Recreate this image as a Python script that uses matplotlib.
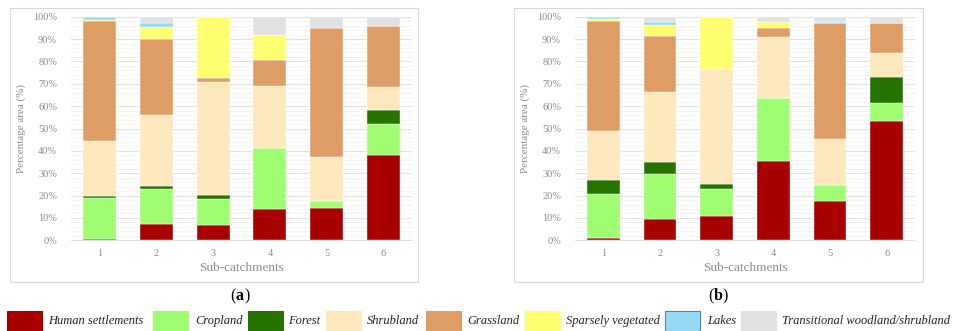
import matplotlib
matplotlib.use("Agg")
import matplotlib.pyplot as plt
from matplotlib.patches import Rectangle
from matplotlib.ticker import MultipleLocator, PercentFormatter
import numpy as np

categories = ["1", "2", "3", "4", "5", "6"]
classes = ["Human settlements", "Cropland", "Forest", "Shrubland", "Grassland",
           "Sparsely vegetated", "Lakes", "Transitional woodland/shrubland"]
colors = ["#A80000", "#A0FC70", "#267300", "#FEE8BE", "#DF9D66", "#FFFF70", "#97DBF2", "#E1E1E1"]

# Panel (a) values (%)
a_human = [0.8, 7.3, 6.9, 14.0, 14.5, 38.3]
a_crop = [18.3, 15.8, 11.6, 27.4, 2.9, 13.6]
a_forest = [0.8, 1.0, 1.6, 0.0, 0.0, 6.2]
a_shrub = [24.5, 31.9, 50.5, 27.6, 19.9, 10.6]
a_grass = [53.5, 33.9, 2.1, 11.5, 57.6, 27.1]
a_sparse = [0.6, 5.6, 27.3, 11.2, 0.0, 0.0]
a_lakes = [1.2, 1.5, 0.0, 0.0, 0.5, 0.0]
a_trans = [0.3, 3.0, 0.0, 8.3, 4.6, 4.2]

# Panel (b) values (%)
b_human = [1.0, 9.7, 10.9, 35.3, 17.4, 53.5]
b_crop = [19.6, 20.1, 12.2, 28.3, 7.3, 7.8]
b_forest = [6.2, 5.1, 2.1, 0.0, 0.0, 11.9]
b_shrub = [22.1, 31.4, 51.4, 27.5, 20.6, 10.6]
b_grass = [49.2, 25.1, 0.0, 3.8, 51.7, 13.5]
b_sparse = [0.7, 4.7, 23.4, 2.7, 0.0, 0.0]
b_lakes = [0.9, 1.5, 0.0, 0.0, 0.6, 0.0]
b_trans = [0.3, 2.4, 0.0, 2.4, 2.4, 2.7]

panel_a = [a_human, a_crop, a_forest, a_shrub, a_grass, a_sparse, a_lakes, a_trans]
panel_b = [b_human, b_crop, b_forest, b_shrub, b_grass, b_sparse, b_lakes, b_trans]

plt.rcParams['font.family'] = ['Liberation Serif', 'DejaVu Serif']

W, H = 954, 331
fig = plt.figure(figsize=(W / 100, H / 100), dpi=100)

def fx(px):
    return px / W

def fy(py):
    return 1 - py / H

gray = "#8c8c8c"

def draw_panel(ax, data):
    x = np.arange(len(categories))
    bottom = np.zeros(len(categories))
    for vals, col in zip(data, colors):
        v = np.array(vals)
        ax.bar(x, v, bottom=bottom, width=0.58, color=col, edgecolor="white",
               linewidth=0.3, zorder=3)
        bottom += v
    ax.set_xlim(-0.5, len(categories) - 0.5)
    ax.set_ylim(0, 100)
    ax.yaxis.set_major_locator(MultipleLocator(10))
    ax.yaxis.set_minor_locator(MultipleLocator(2))
    ax.yaxis.set_major_formatter(PercentFormatter(decimals=0))
    ax.grid(axis="y", which="major", color="#dcdcdc", linewidth=0.6, zorder=0)
    ax.grid(axis="y", which="minor", color="#f1f1f1", linewidth=0.5, zorder=0)
    ax.set_xticks(x)
    ax.set_xticklabels(categories)
    ax.tick_params(axis="both", which="both", length=0, colors=gray, labelsize=7.5)
    ax.tick_params(axis="y", pad=10)
    ax.tick_params(axis="x", pad=6)
    for s in ["top", "right", "left"]:
        ax.spines[s].set_visible(False)
    ax.spines["bottom"].set_color("#d9d9d9")
    ax.spines["bottom"].set_linewidth(0.6)
    ax.set_ylabel("Percentage area (%)", color=gray, fontsize=8, labelpad=5)
    ax.set_xlabel("Sub-catchments", color=gray, fontsize=9.5, labelpad=3)

# frames
for (l, r) in [(10, 418), (514, 923)]:
    fig.patches.append(Rectangle((fx(l), fy(282)), fx(r) - fx(l), fy(8) - fy(282),
                                 transform=fig.transFigure, fill=False,
                                 edgecolor="#d9d9d9", linewidth=0.8))

ax1 = fig.add_axes([fx(71), fy(240.3), fx(412) - fx(71), fy(16.7) - fy(240.3)])
draw_panel(ax1, panel_a)
ax2 = fig.add_axes([fx(575), fy(240.3), fx(915) - fx(575), fy(16.7) - fy(240.3)])
draw_panel(ax2, panel_b)

def panel_label(xc, letter):
    t1 = fig.text(fx(xc), fy(296), "(", ha="right", va="center", fontsize=11.5)
    fig.text(fx(xc), fy(296), letter, ha="center", va="center", fontsize=11.5,
             fontweight="bold")
    fig.text(fx(xc + 4.5), fy(296), ")", ha="left", va="center", fontsize=11.5)
    t1.set_x(fx(xc - 4.5))

panel_label(240, "a")
panel_label(718, "b")

# legend
patch_x = [7, 153, 248, 326, 426, 525, 665, 741]
text_x = [48, 195, 288, 367, 467, 566, 707, 782]
for i, (lab, col) in enumerate(zip(classes, colors)):
    ec = "#4f7fd8" if lab == "Lakes" else col
    fig.patches.append(Rectangle((fx(patch_x[i]), fy(331)), fx(35), 20 / H,
                                 transform=fig.transFigure, facecolor=col,
                                 edgecolor=ec, linewidth=0.8))
    fig.text(fx(text_x[i]), fy(321), lab, ha="left", va="center",
             fontsize=9.0, style="italic", color="#222222")

fig.savefig("out.png", dpi=100)
